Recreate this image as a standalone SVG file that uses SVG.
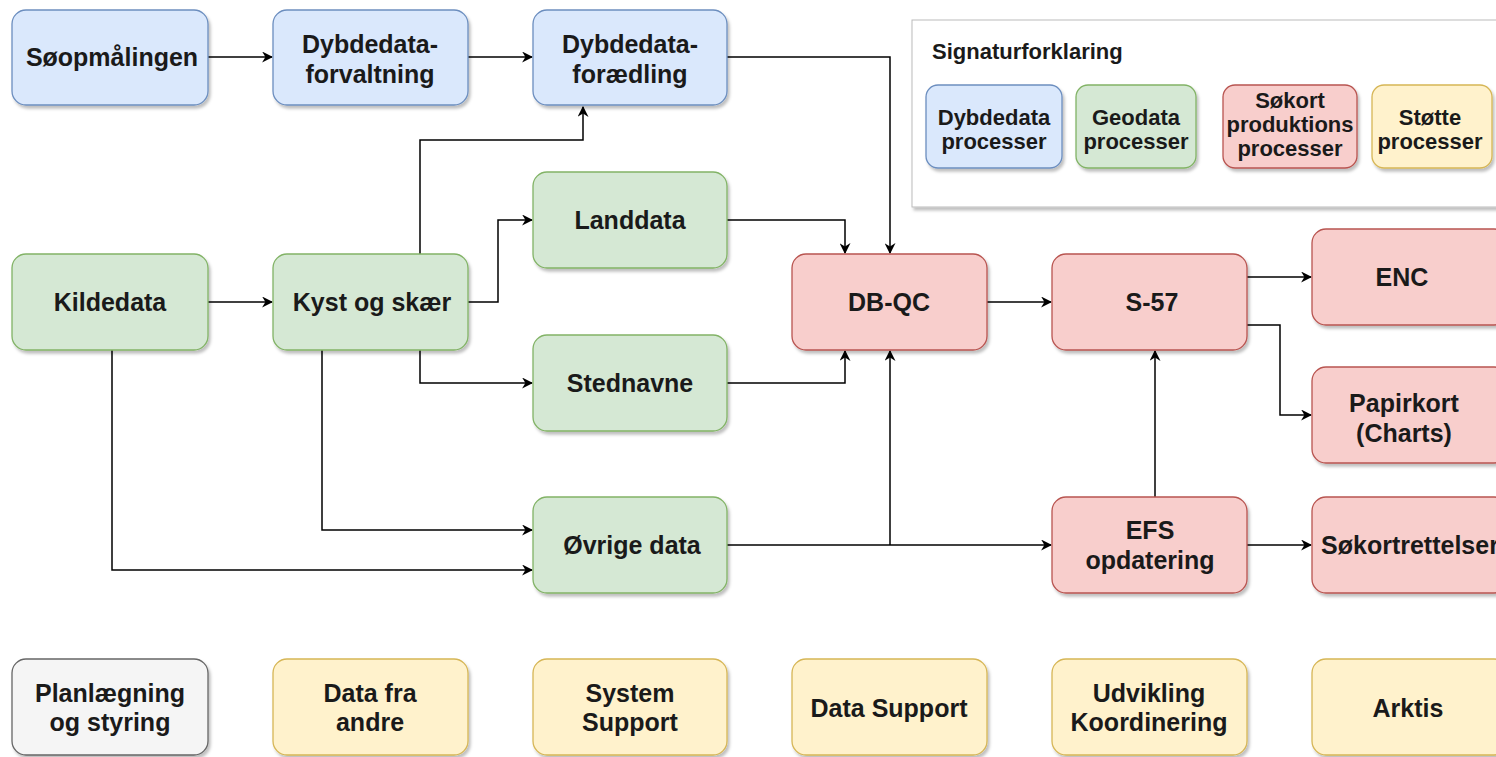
<svg xmlns="http://www.w3.org/2000/svg" width="1496" height="757" viewBox="0 0 1496 757">
<style>
.n rect{stroke-width:1.3;filter:url(#sh)}
.b rect{fill:#dae8fc;stroke:#6c8ebf}
.g rect{fill:#d5e8d4;stroke:#82b366}
.r rect{fill:#f8cecc;stroke:#b85450}
.y rect{fill:#fff2cc;stroke:#d6b656}
.w rect{fill:#f5f5f5;stroke:#666666}
text{font-family:"Liberation Sans",Arial,sans-serif;font-weight:bold;font-size:25px;fill:#1a1a1a;text-anchor:middle}
.lg text{font-size:22px}
.c path{fill:none;stroke:#000;stroke-width:1.5;marker-end:url(#ar)}
</style>
<defs>
<filter id="sh" x="-10%" y="-10%" width="130%" height="130%"><feDropShadow dx="2" dy="3" stdDeviation="1.5" flood-color="#000" flood-opacity="0.25"/></filter>
<marker id="ar" viewBox="0 0 10 10" refX="9" refY="5" markerWidth="11" markerHeight="11" markerUnits="userSpaceOnUse" orient="auto"><path d="M0,0 L10,5 L0,10 L3,5 z" fill="#000"/></marker>
</defs>
<rect width="1496" height="757" fill="#fff"/>

<g id="legend" class="lg">
<rect x="912" y="20" width="600" height="187" fill="#fff" stroke="#bbb" filter="url(#sh)"/>
<text x="932" y="59" style="text-anchor:start">Signaturforklaring</text>
<g class="n b"><rect x="926" y="85" width="136" height="83" rx="12"/><text x="994" y="125">Dybdedata</text><text x="994" y="149">processer</text></g>
<g class="n g"><rect x="1076" y="85" width="120" height="83" rx="12"/><text x="1136" y="125">Geodata</text><text x="1136" y="149">processer</text></g>
<g class="n r"><rect x="1223" y="85" width="134" height="83" rx="12"/><text x="1290" y="108">Søkort</text><text x="1290" y="132">produktions</text><text x="1290" y="156">processer</text></g>
<g class="n y"><rect x="1372" y="85" width="120" height="83" rx="12"/><text x="1430" y="125">Støtte</text><text x="1430" y="149">processer</text></g>
</g>

<g id="connectors" class="c">
<path d="M208,57 H272"/>
<path d="M468,57 H532"/>
<path d="M727,57 H890 V253"/>
<path d="M420,254 V140 H583 V107"/>
<path d="M468,302 H498 V220 H532"/>
<path d="M420,350 V383 H532"/>
<path d="M727,220 H845 V253"/>
<path d="M727,383 H845 V351"/>
<path d="M208,302 H272"/>
<path d="M322,350 V530 H532"/>
<path d="M112,350 V570 H532"/>
<path d="M727,545 H1051"/>
<path d="M890,545 V351"/>
<path d="M987,302 H1051"/>
<path d="M1247,277 H1311"/>
<path d="M1247,325 H1280 V415 H1311"/>
<path d="M1155,497 V351"/>
<path d="M1247,545 H1311"/>
</g>

<g id="soopmalingen" class="n b"><rect x="12" y="10" width="196" height="95" rx="14"/><text x="112" y="66">Søopmålingen</text></g>
<g id="forvaltning" class="n b"><rect x="273" y="10" width="195" height="95" rx="14"/><text x="370" y="53">Dybdedata-</text><text x="370" y="83">forvaltning</text></g>
<g id="foraedling" class="n b"><rect x="533" y="10" width="194" height="95" rx="14"/><text x="630" y="53">Dybdedata-</text><text x="630" y="83">forædling</text></g>

<g id="landdata" class="n g"><rect x="533" y="172" width="194" height="96" rx="14"/><text x="630" y="229">Landdata</text></g>
<g id="kildedata" class="n g"><rect x="12" y="254" width="196" height="96" rx="14"/><text x="110" y="311">Kildedata</text></g>
<g id="kyst" class="n g"><rect x="273" y="254" width="195" height="96" rx="14"/><text x="372" y="311">Kyst og skær</text></g>
<g id="stednavne" class="n g"><rect x="533" y="335" width="194" height="96" rx="14"/><text x="630" y="392">Stednavne</text></g>
<g id="ovrige" class="n g"><rect x="533" y="497" width="194" height="96" rx="14"/><text x="632" y="554">Øvrige data</text></g>

<g id="dbqc" class="n r"><rect x="792" y="254" width="195" height="96" rx="14"/><text x="889" y="311">DB-QC</text></g>
<g id="s57" class="n r"><rect x="1052" y="254" width="195" height="96" rx="14"/><text x="1152" y="311">S-57</text></g>
<g id="efs" class="n r"><rect x="1052" y="497" width="195" height="96" rx="14"/><text x="1150" y="539">EFS</text><text x="1150" y="569">opdatering</text></g>
<g id="enc" class="n r"><rect x="1312" y="229" width="196" height="96" rx="14"/><text x="1402" y="286">ENC</text></g>
<g id="papirkort" class="n r"><rect x="1312" y="367" width="196" height="96" rx="14"/><text x="1404" y="412">Papirkort</text><text x="1404" y="442">(Charts)</text></g>
<g id="sokortrettelser" class="n r"><rect x="1312" y="497" width="196" height="96" rx="14"/><text x="1410" y="554">Søkortrettelser</text></g>

<g id="planlaegning" class="n w"><rect x="12" y="659" width="196" height="96" rx="14"/><text x="110" y="702">Planlægning</text><text x="110" y="731">og styring</text></g>
<g id="datafraandre" class="n y"><rect x="273" y="659" width="195" height="96" rx="14"/><text x="370" y="702">Data fra</text><text x="370" y="731">andre</text></g>
<g id="systemsupport" class="n y"><rect x="533" y="659" width="194" height="96" rx="14"/><text x="630" y="702">System</text><text x="630" y="731">Support</text></g>
<g id="datasupport" class="n y"><rect x="792" y="659" width="195" height="96" rx="14"/><text x="889" y="717">Data Support</text></g>
<g id="udvikling" class="n y"><rect x="1052" y="659" width="195" height="96" rx="14"/><text x="1149" y="702">Udvikling</text><text x="1149" y="731">Koordinering</text></g>
<g id="arktis" class="n y"><rect x="1312" y="659" width="196" height="96" rx="14"/><text x="1408" y="717">Arktis</text></g>
</svg>
